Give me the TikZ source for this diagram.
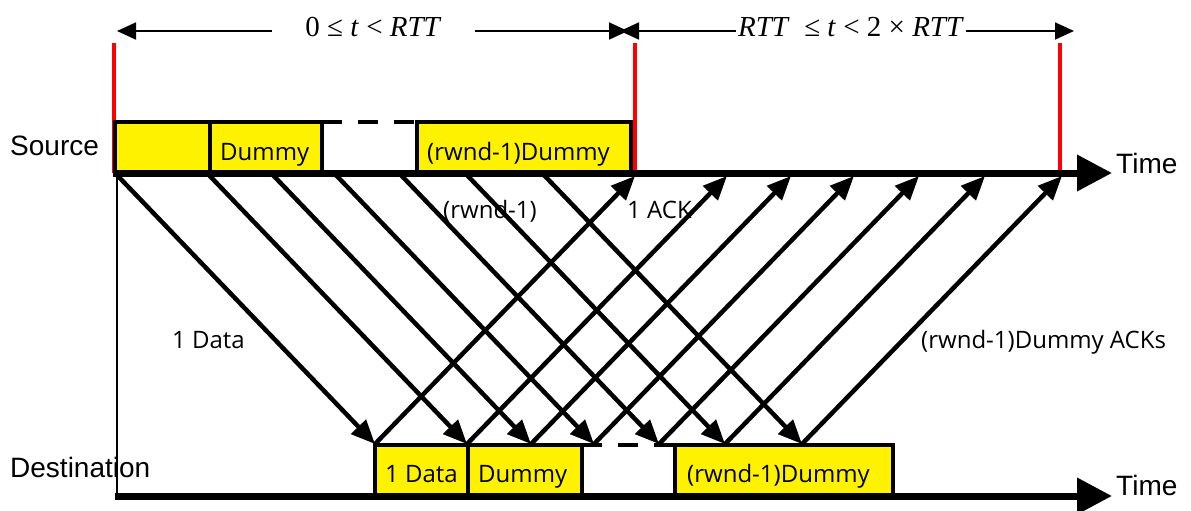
\documentclass[tikz,border=0pt]{standalone}
\usepackage{fontspec}
\usetikzlibrary{arrows.meta}
\newfontfamily\boxfont{Open Sans}
\newfontfamily\axisfont{Liberation Sans}
\newfontfamily\spanfont{Liberation Serif}

\begin{document}
\begin{tikzpicture}[x=1pt,y=-1pt,
  box/.style={draw=black, line width=4.5pt, fill=yellow, rectangle, inner sep=0pt, outer sep=0pt},
  gapbox/.style={fill=white, rectangle, inner sep=0pt, outer sep=0pt},
  gaptop/.style={draw=black, line width=4.5pt, dash pattern=on 20pt off 16pt},
  redmark/.style={draw=red, line width=4.5pt},
  timeline/.style={line width=7pt, -{Triangle[length=35pt,width=35pt]}},
  msg/.style={line width=4.5pt, -{Triangle[length=24pt,width=20pt]}},
  spanarrow/.style={line width=1.8pt, {Triangle[length=19pt,width=17pt]}-{Triangle[length=19pt,width=17pt]}},
  boxtext/.style={font=\boxfont\fontsize{24}{27}\selectfont, anchor=base west, inner sep=0pt},
  msgtext/.style={font=\boxfont\fontsize{24}{27}\selectfont, anchor=base west, inner sep=0pt},
  axistext/.style={font=\axisfont\fontsize{28}{30}\selectfont, anchor=base west, inner sep=0pt},
  spantext/.style={font=\spanfont\fontsize{29}{31}\selectfont, anchor=base, fill=white, inner ysep=2pt}
]
\useasboundingbox (0,0) rectangle (1191,511);

% period markers
\coordinate (r0t) at (114,43);  \coordinate (r0b) at (114,173);
\coordinate (r1t) at (635,43);  \coordinate (r1b) at (635,173);
\coordinate (r2t) at (1060,43); \coordinate (r2b) at (1060,173);
\draw[redmark] (r0t) -- (r0b);
\draw[redmark] (r1t) -- (r1b);
\draw[redmark] (r2t) -- (r2b);

% period spans
\coordinate (p0) at (117,31);
\coordinate (p1a) at (628,31);
\coordinate (p1b) at (620,31);
\coordinate (p2) at (1074,31);
\draw[spanarrow] (p0) -- (p1a);
\draw[spanarrow] (p1b) -- (p2);
\node[spantext, inner xsep=33pt] (span1) at (373.5,37) {0 ≤ \textit{t} < \textit{RTT}};
\node[spantext, inner xsep=2pt] (span2) at (851,37) {\textit{RTT}\ \ ≤ \textit{t} < 2 × \textit{RTT}};

% sender window
\node[gapbox, minimum width=95pt, minimum height=51pt, anchor=north west] (srcgap) at (322,122) {};
\node[box, minimum width=95pt, minimum height=51pt, anchor=north west] (src1) at (115,122) {};
\node[box, minimum width=112pt, minimum height=51pt, anchor=north west] (src2) at (210,122) {};
\node[box, minimum width=214pt, minimum height=51pt, anchor=north west] (src3) at (417,122) {};
\draw[gaptop] (src2.north east) -- (src3.north west);

% receiver window
\node[gapbox, minimum width=93pt, minimum height=51pt, anchor=north west] (dstgap) at (582,445) {};
\node[box, minimum width=93pt, minimum height=51pt, anchor=north west] (dst1) at (375,445) {};
\node[box, minimum width=114pt, minimum height=51pt, anchor=north west] (dst2) at (468,445) {};
\node[box, minimum width=218pt, minimum height=51pt, anchor=north west] (dst3) at (675,445) {};
\draw[gaptop] (dst2.north east) -- (dst3.north west);

\node[boxtext] (srcdummy) at (220,160) {Dummy};
\node[boxtext] (srclast) at (427,160) {(rwnd-1)Dummy};
\node[boxtext] (dstdata) at (385,482) {1 Data};
\node[boxtext] (dstdummy) at (478,482) {Dummy};
\node[boxtext] (dstlast) at (687,482) {(rwnd-1)Dummy};

% data segments and their acknowledgements
\foreach \i/\sx/\dx/\ax in {1/115/375/635, 2/207/467/727, 3/271/531/791,
    4/334/594/854, 5/399/659/919, 6/465/725/985, 7/542/802/1062} {
  \coordinate (s\i) at (\sx,173);
  \coordinate (d\i) at (\dx,444);
  \coordinate (a\i) at (\ax,176);
  \draw[msg] (s\i) -- (d\i);
  \draw[msg] (d\i) -- (a\i);
}

% time axes
\coordinate (srcstart) at (113,173);
\coordinate (srcend) at (1112,173);
\coordinate (dststart) at (115,496);
\coordinate (dstend) at (1112,496);
\coordinate (vtop) at (117,173);
\coordinate (vbot) at (117,496);
\draw[line width=2.5pt] (vtop) -- (vbot);
\draw[timeline] (srcstart) -- (srcend);
\draw[timeline] (dststart) -- (dstend);

\node[axistext] (srclabel) at (10,155) {Source};
\node[axistext] (dstlabel) at (10,477) {Destination};
\node[axistext] (srctime) at (1116,173) {Time};
\node[axistext] (dsttime) at (1116,495) {Time};

\node[msgtext] (lbldata) at (172,348) {1 Data};
\node[msgtext] (lblrwnd) at (443,218) {(rwnd-1)};
\node[msgtext] (lblack) at (627,218) {1 ACK};
\node[msgtext] (lblacks) at (921,348) {(rwnd-1)Dummy ACKs};
\end{tikzpicture}
\end{document}
